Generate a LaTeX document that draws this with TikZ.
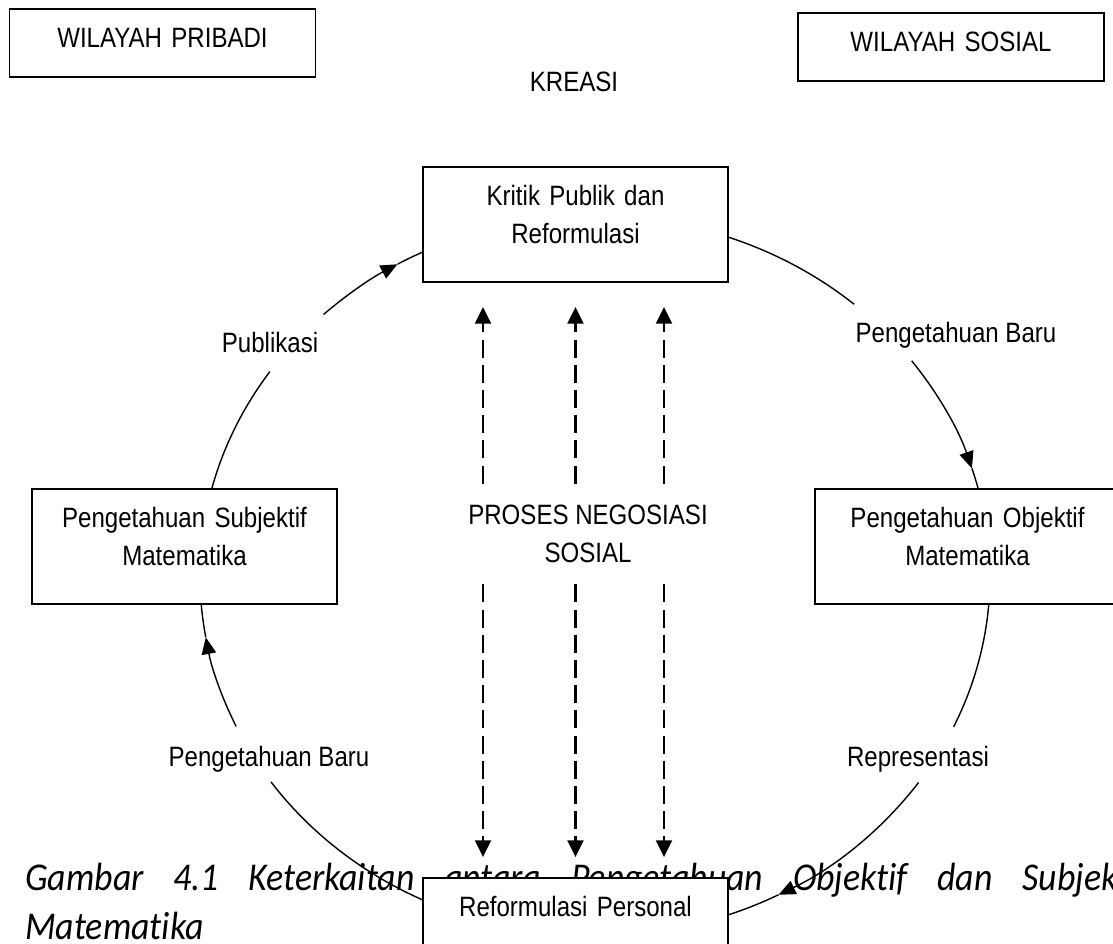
\documentclass[tikz,border=0pt]{standalone}
\usepackage{fontspec}
\usepackage{tikz}
\usetikzlibrary{arrows.meta,calc}
\newfontfamily\diafont{Liberation Sans}[FakeStretch=0.86]
\newfontfamily\capfont{Carlito}[FakeStretch=0.91, Ligatures=NoCommon]

\begin{document}
\begin{tikzpicture}[x=0.025cm, y=0.025cm,
    font=\diafont\fontsize{19.9}{27}\selectfont,
    box/.style={draw, fill=white, line width=0.045cm, inner xsep=0pt, inner ysep=0pt,
        text width=7.625cm, align=center, text height=0.975cm, text depth=1.9cm},
    tag/.style={draw, fill=white, line width=0.045cm, inner xsep=0pt, inner ysep=0pt,
        text width=7.65cm, align=center, text height=0.975cm, text depth=0.725cm},
    lbl/.style={anchor=base, inner sep=0pt},
    link/.style={line width=0.035cm},
    tip/.style={-{Triangle[length=0.42cm, width=0.36cm]}},
    negline/.style={line width=0.055cm, dash pattern=on 0.45cm off 0.18cm,
        -{Triangle[length=0.42cm, width=0.4cm]}},
    ring/.style={x radius=395, y radius=360}]
    \useasboundingbox (0,0) rectangle (1113,-944);
    \clip (0,0) rectangle (1113,-944);

    % Caption
    \node[anchor=base west, inner sep=0pt, text width=28.075cm, align=left,
        font=\capfont\itshape\fontsize{28}{31.5}\selectfont] (cap) at (25,-890)
        {\hbox to 28.075cm{Gambar\hfill 4.1\hfill Keterkaitan\hfill antara\hfill Pengetahuan\hfill
        Objektif\hfill dan\hfill Subjektif}\\[0.125cm]Matematika};

    % Cycle
    \coordinate (o) at (595,-576);
    % Subjektif -> Publikasi
    \draw[link] ($(o)+(168:395 and 360)$) arc[start angle=168, end angle=145.4, ring];
    % Publikasi -> Kritik
    \draw[link, tip] ($(o)+(133.4:395 and 360)$) arc[start angle=133.4, end angle=120, ring];
    \draw[link] ($(o)+(120:395 and 360)$) arc[start angle=120, end angle=112, ring];
    % Kritik -> Pengetahuan Baru
    \draw[link] ($(o)+(74:395 and 360)$) arc[start angle=74, end angle=49, ring];
    % Pengetahuan Baru -> Objektif
    \draw[link, tip] ($(o)+(36.7:395 and 360)$) arc[start angle=36.7, end angle=17.4, ring];
    \draw[link] ($(o)+(17.4:395 and 360)$) arc[start angle=17.4, end angle=12, ring];
    % Objektif -> Representasi
    \draw[link] ($(o)+(-2:395 and 360)$) arc[start angle=-2, end angle=-24.8, ring];
    % Representasi -> Reformulasi
    \draw[link, tip] ($(o)+(-35:395 and 360)$) arc[start angle=-35, end angle=-62.3, ring];
    \draw[link] ($(o)+(-62.3:395 and 360)$) arc[start angle=-62.3, end angle=-73, ring];
    % Reformulasi -> Pengetahuan Baru
    \draw[link] ($(o)+(247:395 and 360)$) arc[start angle=247, end angle=214.9, ring];
    % Pengetahuan Baru -> Subjektif
    \draw[link, tip] ($(o)+(204.7:395 and 360)$) arc[start angle=204.7, end angle=189.8, ring];
    \draw[link] ($(o)+(189.8:395 and 360)$) arc[start angle=189.8, end angle=182, ring];

    % Regions
    \node[tag] (pribadi) at (162.5,-43) {WILAYAH PRIBADI};
    \node[tag] (sosial) at (951,-47) {WILAYAH SOSIAL};
    \node[lbl] (kreasi) at (574,-92) {KREASI};

    % Boxes
    \node[box] (kritik) at (575.5,-224.5) {Kritik Publik dan\\Reformulasi};
    \node[box] (subj) at (184.5,-546.5) {Pengetahuan Subjektif\\Matematika};
    \node[box] (obj) at (967.5,-546.5) {Pengetahuan Objektif\\Matematika};
    \node[box] (reform) at (575.5,-935.5) {Reformulasi Personal};

    % Arc labels
    \node[lbl] (pub) at (270,-353) {Publikasi};
    \node[lbl] (barukanan) at (956,-343) {Pengetahuan Baru};
    \node[lbl] (barukiri) at (269,-766) {Pengetahuan Baru};
    \node[lbl] (rep) at (918,-766) {Representasi};

    % Negotiation
    \node[align=center, minimum height=2.5cm, inner sep=0pt] (neg) at (588,-534)
        {PROSES NEGOSIASI\\SOSIAL};
    \foreach \dx in {-92.5,0,88.5} {
        \draw[negline, shorten >=0.6cm] ($(neg.north -| kritik.south)+(\dx,0)$) -- ($(kritik.south)+(\dx,0)$);
        \draw[negline, shorten >=0.5cm] ($(neg.south -| reform.north)+(\dx,0)$) -- ($(reform.north)+(\dx,0)$);
    }
\end{tikzpicture}
\end{document}
